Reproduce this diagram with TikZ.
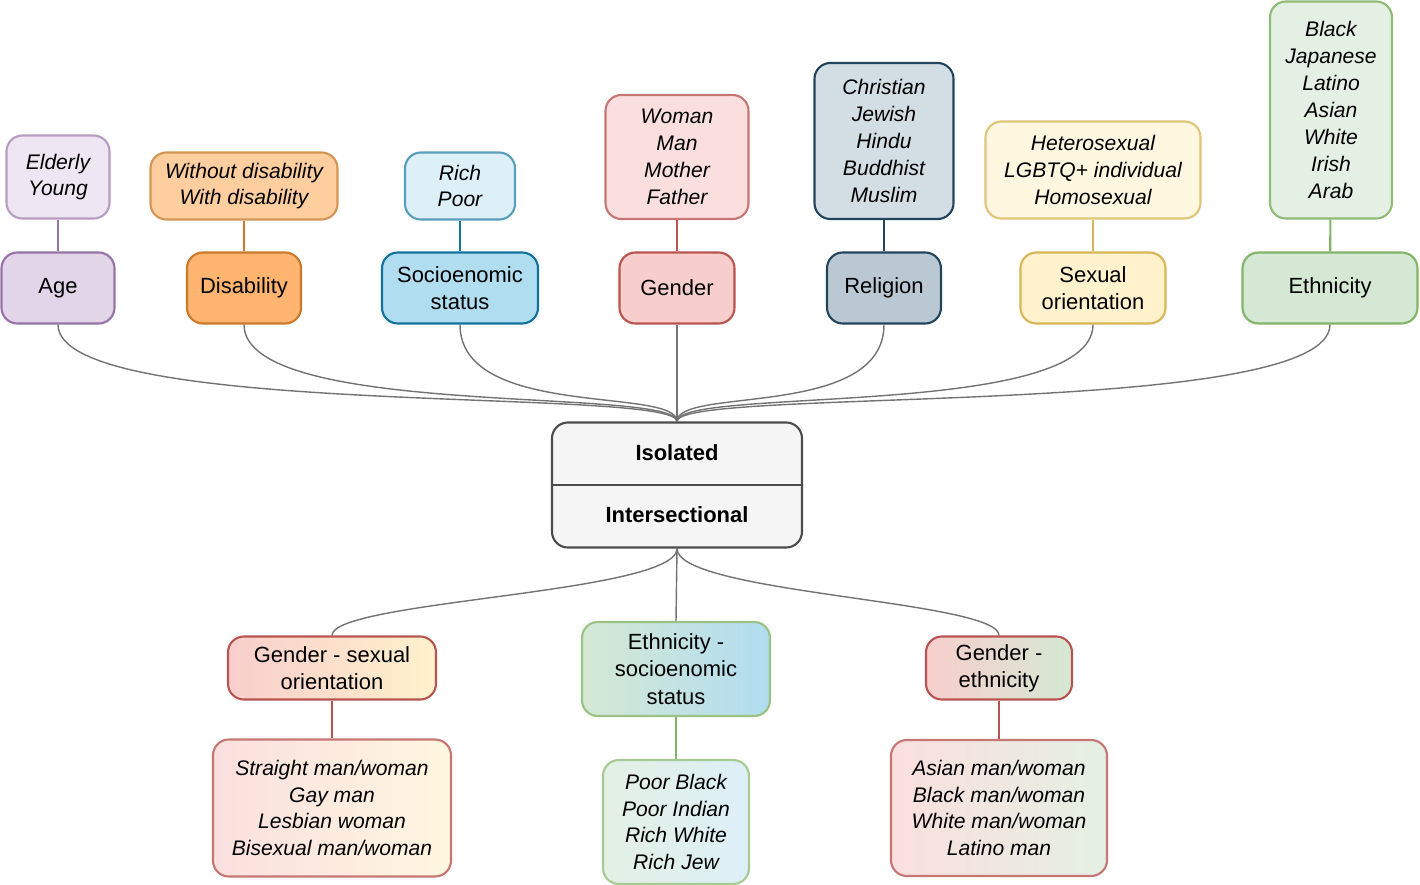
\documentclass[tikz,border=0pt]{standalone}
\usepackage{fontspec}
\setmainfont{Liberation Sans}
\usetikzlibrary{positioning}
\definecolor{agef}{HTML}{E1D5E7}\definecolor{aged}{HTML}{9673A6}\definecolor{agel}{HTML}{EEE6F2}
\definecolor{disf}{HTML}{FFB570}\definecolor{disd}{HTML}{C87A2A}\definecolor{disl}{HTML}{FFCE9F}
\definecolor{socf}{HTML}{B1DDF0}\definecolor{socd}{HTML}{10739E}\definecolor{socl}{HTML}{DDF0F8}
\definecolor{genf}{HTML}{F8CECC}\definecolor{gend}{HTML}{B85450}\definecolor{genl}{HTML}{FADFDE}
\definecolor{relf}{HTML}{BAC8D3}\definecolor{reld}{HTML}{23445D}\definecolor{rell}{HTML}{D3DDE4}
\definecolor{sexf}{HTML}{FFF2CC}\definecolor{sexd}{HTML}{D6B656}\definecolor{sexl}{HTML}{FFF7E0}
\definecolor{ethf}{HTML}{D5E8D4}\definecolor{ethd}{HTML}{82B366}\definecolor{ethl}{HTML}{E4F0E3}
\tikzset{
  box/.style={draw, rounded corners=9pt, line width=1.2pt, align=center, inner sep=0pt,
    font=\fontsize{12.5}{15.5}\selectfont},
  cat/.style n args={3}{box, fill=#1, draw=#2, minimum width=#3*0.02cm, minimum height=71*0.02cm},
  leaf/.style={box, font=\fontsize{12}{15.3}\selectfont\itshape},
  link/.style={draw=gray!90!black, line width=0.8pt},
}
\begin{document}
\begin{tikzpicture}[x=0.02cm, y=-0.02cm]
\useasboundingbox (0,0) rectangle (1420,885);

% kategoriak
\node[cat={agef}{aged}{113}] (age) at (58,288) {Age};
\node[cat={disf}{disd}{114}] (dis) at (244,288) {Disability};
\node[cat={socf}{socd}{156}] (soc) at (460,288) {Socioenomic\\status};
\node[cat={genf}{gend}{115}] (gen) at (677,288) {Gender};
\node[cat={relf}{reld}{114}] (rel) at (884,288) {Religion};
\node[cat={sexf}{sexd}{145}] (sex) at (1093,288) {Sexual\\orientation};
\node[cat={ethf}{ethd}{175}] (eth) at (1330,288) {Ethnicity};

% azpikategoriak
\node[leaf, fill=agel, draw=aged!70, minimum width=103*0.02cm, minimum height=83*0.02cm] (agel) at (58,177) {Elderly\\Young};
\node[leaf, fill=disl, draw=disd!80, minimum width=187*0.02cm, minimum height=67*0.02cm] (disl) at (244,186) {Without disability\\With disability};
\node[leaf, fill=socl, draw=socd!70, minimum width=110*0.02cm, minimum height=67*0.02cm] (socl) at (460,186) {Rich\\Poor};
\node[leaf, fill=genl, draw=gend!80, minimum width=143*0.02cm, minimum height=124*0.02cm] (genl) at (677,157) {Woman\\Man\\Mother\\Father};
\node[leaf, fill=rell, draw=reld, minimum width=139*0.02cm, minimum height=156*0.02cm] (rell) at (884,141) {Christian\\Jewish\\Hindu\\Buddhist\\Muslim};
\node[leaf, fill=sexl, draw=sexd!80, minimum width=215*0.02cm, minimum height=97*0.02cm] (sexl) at (1093,170) {Heterosexual\\LGBTQ+ individual\\Homosexual};
\node[leaf, fill=ethl, draw=ethd!90, minimum width=122*0.02cm, minimum height=217*0.02cm] (ethl) at (1331,110) {Black\\Japanese\\Latino\\Asian\\White\\Irish\\Arab};

\foreach \c in {age,dis,soc,gen,rel,sex,eth}
  \draw[draw=\c d, line width=1.2pt] (\c l) -- (\c);

% erdia
\node[box, fill=gray!8, draw=gray!140, minimum width=250*0.02cm, minimum height=125*0.02cm,
  font=\fontsize{12.5}{15}\selectfont\bfseries] (mid) at (677,485) {};
\draw[gray!140, line width=1.2pt] (mid.west) -- (mid.east);
\node[font=\fontsize{12.5}{15}\selectfont\bfseries] (iso) at (677,453) {Isolated};
\node[font=\fontsize{12.5}{15}\selectfont\bfseries] (ints) at (677,515) {Intersectional};

\foreach \c in {age,dis,soc,gen,rel,sex,eth}
  \draw[link] (\c.south) .. controls +(0,95) and +(0,-35) .. (mid.north);

% elkarguneak
\node[box, shading=axis, left color=genf, right color=sexf, draw=gend, minimum width=208*0.02cm, minimum height=63*0.02cm] (gs) at (332,668) {Gender - sexual\\orientation};
\node[box, shading=axis, left color=ethf, right color=socf, draw=ethd!80, minimum width=188*0.02cm, minimum height=94*0.02cm] (es) at (676,669) {Ethnicity -\\socioenomic\\status};
\node[box, shading=axis, left color=genf, right color=ethf, draw=gend, minimum width=146*0.02cm, minimum height=63*0.02cm] (ge) at (999,668) {Gender -\\ethnicity};

\node[leaf, shading=axis, left color=genl, right color=sexl, draw=gend!80, minimum width=238*0.02cm, minimum height=137*0.02cm] (gsl) at (332,808) {Straight man/woman\\Gay man\\Lesbian woman\\Bisexual man/woman};
\node[leaf, shading=axis, left color=ethl, right color=socl, draw=ethd!70, minimum width=146*0.02cm, minimum height=124*0.02cm] (esl) at (676,822) {Poor Black\\Poor Indian\\Rich White\\Rich Jew};
\node[leaf, shading=axis, left color=genl, right color=ethl, draw=gend!80, minimum width=216*0.02cm, minimum height=136*0.02cm] (gel) at (999,808) {Asian man/woman\\Black man/woman\\White man/woman\\Latino man};

\draw[link] (mid.south) .. controls +(0,45) and +(0,-35) .. (gs.north);
\draw[link] (mid.south) -- (es.north);
\draw[link] (mid.south) .. controls +(0,45) and +(0,-35) .. (ge.north);
\draw[gend, line width=1.2pt] (gs) -- (gsl);
\draw[ethd, line width=1.2pt] (es) -- (esl);
\draw[gend, line width=1.2pt] (ge) -- (gel);
\end{tikzpicture}
\end{document}
